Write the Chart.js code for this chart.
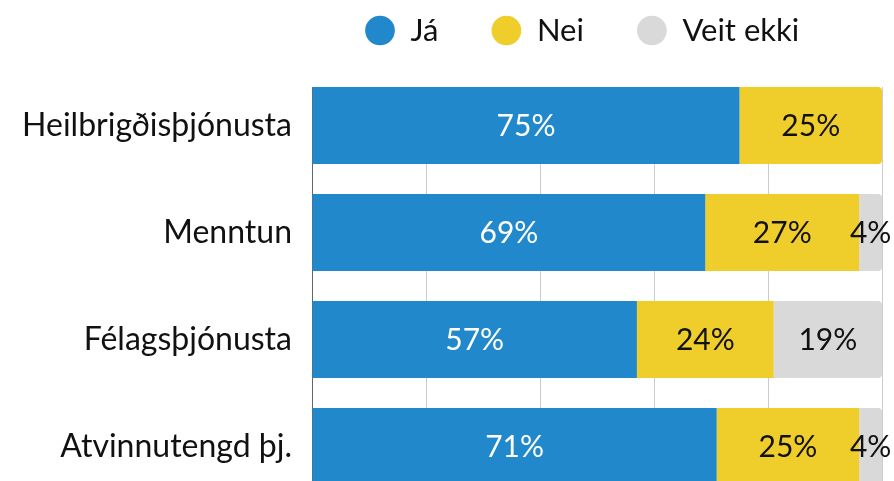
<!DOCTYPE html>
<html>
<head>
<meta charset="utf-8">
<script src="https://cdn.jsdelivr.net/npm/chart.js@4"></script>
<style>
  html, body { margin: 0; padding: 0; background: #fff; width: 894px; height: 481px; overflow: hidden; }
  #wrap { width: 894px; height: 481px; overflow: hidden; }
  canvas { display: block; }
</style>
</head>
<body>
<div id="wrap"><canvas id="surveyChart" width="894" height="520"></canvas></div>
<script>
// survey answers per service area, in percent
const categories = ['Heilbrigðisþjónusta', 'Menntun', 'Félagsþjónusta', 'Atvinnutengd þj.'];
const seriesNames = ['Já', 'Nei', 'Veit ekki'];
const yesValues = [75, 69, 57, 71];
const noValues = [25, 27, 24, 25];
const dontKnowValues = [0, 4, 19, 4];
const xTickStep = 20; // gridlines at 0, 20, 40, 60, 80, 100

const seriesColors = ['#2189cb', '#efcd2b', '#d9d9d9'];
const labelColors = ['#ffffff', '#111111', '#111111'];
const fontFamily = 'Lato, "Noto Sans", sans-serif';

Chart.defaults.font.family = fontFamily;
Chart.defaults.color = '#111';

function toPoints(values) {
    return values.map((v, i) => ({ x: v, y: i }));
}

// push the plot area down a bit under the legend
const legendGap = {
    id: 'legendGap',
    beforeInit(chart) {
        const fit = chart.legend.fit;
        chart.legend.fit = function () {
            fit.call(this);
            this.height += 31;
        };
    }
};

// percent text in the middle of each segment
const barValueLabels = {
    id: 'barValueLabels',
    afterDatasetsDraw(chart) {
        const ctx = chart.ctx;
        ctx.save();
        ctx.font = '30px ' + fontFamily;
        ctx.textAlign = 'center';
        ctx.textBaseline = 'middle';
        chart.data.datasets.forEach((ds, di) => {
            const meta = chart.getDatasetMeta(di);
            meta.data.forEach((bar, i) => {
                const v = ds.data[i].x;
                if (!v) return;
                const p = bar.getCenterPoint();
                ctx.fillStyle = labelColors[di];
                ctx.fillText(v + '%', p.x, p.y + 1);
            });
        });
        ctx.restore();
    }
};

const seriesValues = [yesValues, noValues, dontKnowValues];
const datasets = seriesNames.map((name, i) => ({
    label: name,
    data: toPoints(seriesValues[i]),
    backgroundColor: seriesColors[i],
    borderWidth: 0,
    borderRadius: i === 0 ? 0 : 4
}));

new Chart(document.getElementById('surveyChart'), {
    type: 'bar',
    data: { datasets },
    plugins: [legendGap, barValueLabels],
    options: {
        indexAxis: 'y',
        responsive: false,
        animation: false,
        layout: { padding: { top: -38, right: 12, bottom: 0, left: 0 } },
        plugins: {
            legend: {
                position: 'top',
                align: 'start',
                fullSize: false,
                labels: {
                    usePointStyle: true,
                    pointStyle: 'circle',
                    boxWidth: 30,
                    boxHeight: 21,
                    padding: 53,
                    color: '#111',
                    font: { size: 31 }
                }
            },
            tooltip: { enabled: false }
        },
        scales: {
            x: {
                stacked: true,
                min: 0,
                max: 100,
                ticks: { display: false, stepSize: xTickStep },
                grid: { color: '#cccccc', drawTicks: false },
                border: { display: false }
            },
            y: {
                type: 'linear',
                stacked: true,
                reverse: true,
                offset: false,
                bounds: 'data',
                min: -0.36,
                max: 3.395,
                afterBuildTicks(scale) {
                    scale.ticks = categories.map((c, i) => ({ value: i }));
                },
                ticks: {
                    padding: 12,
                    color: '#111',
                    font: { size: 32 },
                    callback: (value) => categories[value] ?? ''
                },
                grid: { display: false, offset: false },
                border: { display: true, color: '#666666', width: 1 },
                afterFit(scale) { scale.width = 312; }
            }
        }
    }
});
</script>
</body>
</html>
